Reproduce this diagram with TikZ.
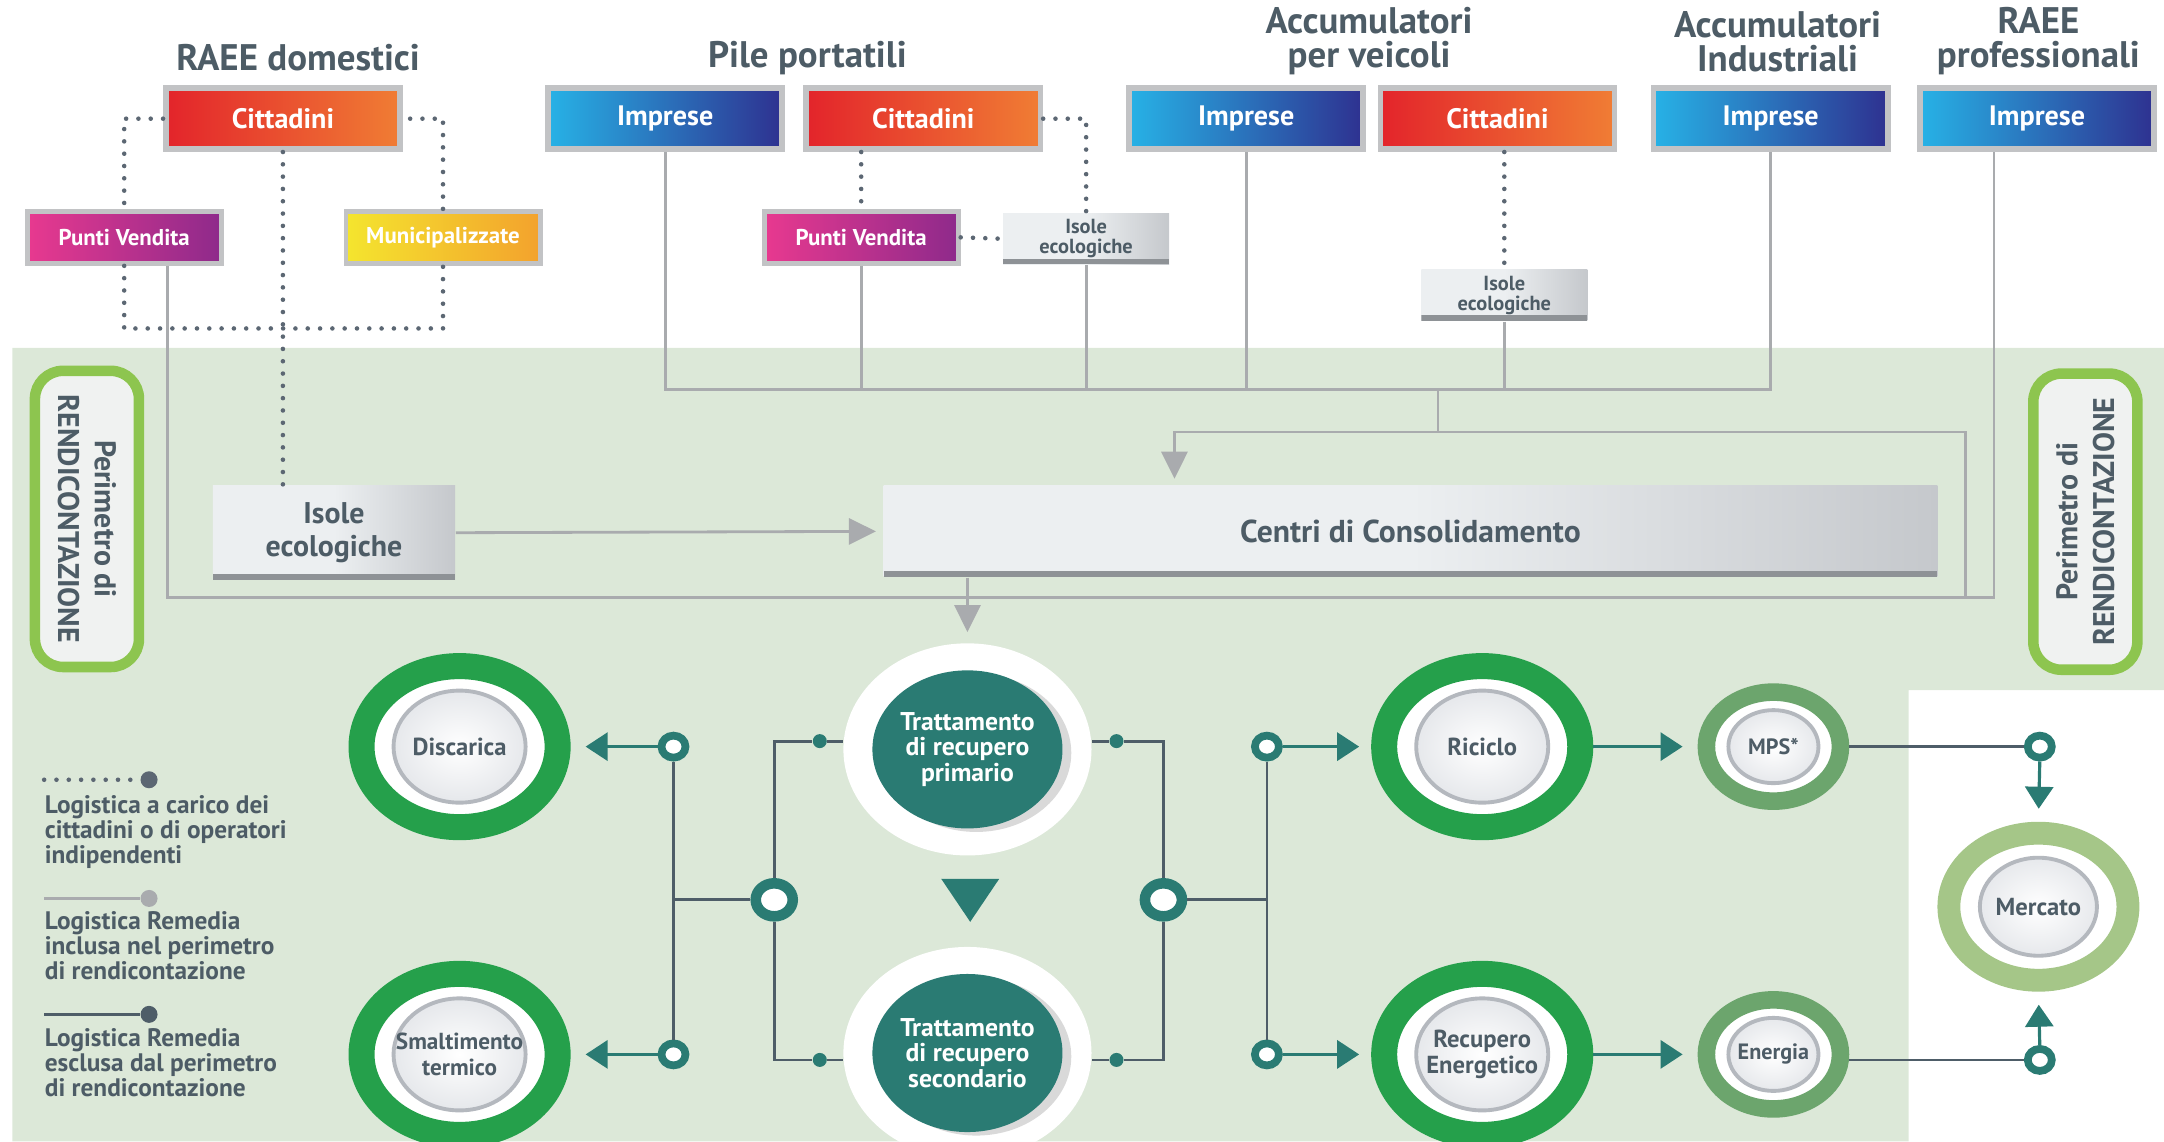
\documentclass[tikz,border=0pt]{standalone}
\usepackage{fontspec}
\setmainfont{PT Sans}
\usetikzlibrary{arrows.meta}
\usetikzlibrary{shapes.geometric}
\usetikzlibrary{shadows}

\definecolor{inkgray}{HTML}{4D5C66}
\definecolor{bggreen}{HTML}{DCE8D8}
\definecolor{wiregray}{HTML}{A9ABAE}
\definecolor{flowgray}{HTML}{4E5D68}
\definecolor{dotgray}{HTML}{5C6773}
\definecolor{framegray}{HTML}{C2C3C5}
\definecolor{tealc}{HTML}{2A7B73}
\definecolor{ringdark}{HTML}{25A04B}
\definecolor{ringmid}{HTML}{6CA56D}
\definecolor{ringlight}{HTML}{A5C688}
\definecolor{perimgreen}{HTML}{8DC54F}
\definecolor{perimfill}{HTML}{F0F2F1}
\definecolor{citred}{HTML}{E3242B}
\definecolor{citorange}{HTML}{F07D34}
\definecolor{impcyan}{HTML}{27B2E6}
\definecolor{impblue}{HTML}{2E3190}
\definecolor{pvpink}{HTML}{E8398F}
\definecolor{pvpurple}{HTML}{8E2A8B}
\definecolor{munyellow}{HTML}{F4E52E}
\definecolor{munorange}{HTML}{F3A22D}
\definecolor{isolight}{HTML}{ECEFF1}
\definecolor{isodark}{HTML}{C5C8CC}
\definecolor{isoedge}{HTML}{8E9296}
\definecolor{coregray}{HTML}{DADDE2}
\definecolor{coreedge}{HTML}{B4B8BE}

% inner disc of the ring nodes
\newcommand{\ringcore}[2]{%
  \shade[inner color=white, outer color=coregray]
    (path picture bounding box.center) ellipse [x radius=#1, y radius=#2];
  \draw[coreedge, line width=1.1pt]
    (path picture bounding box.center) ellipse [x radius=#1, y radius=#2];}

\begin{document}
\begin{tikzpicture}[
    x=0.0138cm, y=-0.0138cm, % one unit per pixel of the layout, y downwards
    grouphead/.style={
        text=inkgray, align=center,
        font=\bfseries\fontsize{10.5}{9.6}\selectfont
    },
    srcbox/.style={
        draw=framegray, line width=1.6pt, % grey frame round the coloured box
        minimum width=2.34cm, minimum height=0.61cm,
        text=white, font=\bfseries\fontsize{8}{8}\selectfont
    },
    citbox/.style={srcbox, left color=citred, right color=citorange},
    impbox/.style={srcbox, left color=impcyan, right color=impblue},
    subbox/.style={
        draw=framegray, line width=1.4pt,
        minimum width=1.94cm, minimum height=0.52cm,
        text=white, font=\bfseries\fontsize{6.5}{6.5}\selectfont
    },
    pvbox/.style={subbox, left color=pvpink, right color=pvpurple},
    munbox/.style={subbox, left color=munyellow, right color=munorange},
    isobox/.style={
        left color=isolight, right color=isodark, middle color=isolight,
        text=inkgray, align=center, inner sep=0pt,
        path picture={\fill[isoedge] (path picture bounding box.south west)
            rectangle ([yshift=1.6pt]path picture bounding box.south east);}
    },
    smalliso/.style={isobox, minimum width=1.66cm, minimum height=0.51cm,
        font=\bfseries\fontsize{5.8}{5.6}\selectfont},
    bigiso/.style={isobox, minimum width=2.42cm, minimum height=0.94cm,
        font=\bfseries\fontsize{8.5}{9.5}\selectfont},
    perim/.style={
        draw=perimgreen, line width=3pt, rounded corners=8pt, fill=perimfill,
        minimum width=2.96cm, minimum height=1.04cm, inner sep=0pt,
        align=center, text=inkgray, font=\bfseries\fontsize{8.5}{10.5}\selectfont
    },
    ring/.style={
        ellipse, fill=white, inner sep=0pt, align=center, text=inkgray,
        font=\bfseries\fontsize{7}{7.4}\selectfont
    },
    bigring/.style={ring, draw=ringdark, line width=7.4pt,
        minimum width=1.96cm, minimum height=1.61cm,
        path picture={\ringcore{0.66cm}{0.56cm}}},
    midring/.style={ring, draw=ringmid, line width=5pt,
        minimum width=1.34cm, minimum height=1.09cm,
        font=\bfseries\fontsize{6.3}{6.5}\selectfont,
        path picture={\ringcore{0.45cm}{0.365cm}}},
    marketring/.style={ring, draw=ringlight, line width=6.5pt,
        minimum width=1.79cm, minimum height=1.47cm,
        path picture={\ringcore{0.585cm}{0.49cm}}},
    halo/.style={ellipse, fill=white, minimum width=2.48cm, minimum height=2.12cm},
    treat/.style={ellipse, fill=tealc, minimum width=1.87cm, minimum height=1.58cm,
        inner sep=0pt, align=center, text=white,
        font=\bfseries\fontsize{7.3}{7.3}\selectfont,
        drop shadow={shadow xshift=2.5pt, shadow yshift=-1pt, fill=black, opacity=0.15}},
    hub/.style={ellipse, draw=tealc, fill=white, line width=2.2pt, inner sep=0pt,
        minimum width=0.24cm, minimum height=0.22cm},
    bighub/.style={hub, line width=3pt, minimum width=0.37cm, minimum height=0.33cm},
    tap/.style={circle, fill=tealc, inner sep=0pt, minimum size=0.14cm},
    legdot/.style={circle, inner sep=0pt, minimum size=0.17cm},
    legtext/.style={anchor=north west, inner sep=0pt, align=left, text=inkgray,
        font=\bfseries\fontsize{7.2}{7.1}\selectfont},
    dotwire/.style={dotgray, line width=1.3pt, line cap=round, dash pattern=on 0pt off 3.5pt},
    feed/.style={wiregray, line width=0.8pt},
    feedarrow/.style={feed, -{Triangle[length=0.27cm, width=0.26cm]}},
    flow/.style={flowgray, line width=0.8pt},
    tealarrow/.style={tealc, line width=0.9pt, -{Triangle[length=0.22cm, width=0.28cm]}}
]

% page and green reporting area
\useasboundingbox (0,0) rectangle (1568,827);
\fill[bggreen] (9,252) -- (1568,252) -- (1568,500) -- (1383,500)
    -- (1383,827) -- (9,827) -- cycle;

% groups of waste
\node[grouphead] (hRD) at (216,42) {RAEE domestici};
\node[grouphead] (hPP) at (585,42) {Pile portatili};
\node[grouphead] (hAV) at (992,30) {Accumulatori\\per veicoli};
\node[grouphead] (hAI) at (1288,30) {Accumulatori\\Industriali};
\node[grouphead] (hRP) at (1477,30) {RAEE\\professionali};

% who hands the waste over
\node[citbox] (cit1) at (205,86) {Cittadini};
\node[impbox] (imp1) at (482,86) {Imprese};
\node[citbox] (cit2) at (669,86) {Cittadini};
\node[impbox] (imp2) at (903,86) {Imprese};
\node[citbox] (cit3) at (1085,86) {Cittadini};
\node[impbox] (imp3) at (1283,86) {Imprese};
\node[impbox] (imp4) at (1476,86) {Imprese};

\node[pvbox] (pv1) at (90,172) {Punti Vendita};
\node[munbox] (mun) at (321,172) {Municipalizzate};
\node[pvbox] (pv2) at (624,172) {Punti Vendita};
\node[smalliso] (iso1) at (787,173) {Isole\\ecologiche};
\node[smalliso] (iso2) at (1090,214) {Isole\\ecologiche};

\node[bigiso] (isoB) at (242,386) {Isole\\ecologiche};
\node[isobox, minimum width=10.53cm, minimum height=0.91cm,
    font=\bfseries\fontsize{9}{9}\selectfont] (cen) at (1022,385) {Centri di Consolidamento};

\node[perim, rotate=-90] (perL) at (63,376) {Perimetro di\\RENDICONTAZIONE};
\node[perim, rotate=90] (perR) at (1511,378) {Perimetro di\\RENDICONTAZIONE};

% dotted logistics
\coordinate (dotjoin) at (205,238);
\draw[dotwire] (cit1.west) -| (pv1.north);
\draw[dotwire] (pv1.south) |- (dotjoin) -| (mun.south);
\draw[dotwire] (mun.north) |- (cit1.east);
\draw[dotwire] (cit1.south) -- (cit1.south |- isoB.north);
\draw[dotwire] (pv2.north |- cit2.south) -- (pv2.north);
\draw[dotwire] (cit2.east) -| (iso1.north);
\draw[dotwire] (pv2.east) -- (iso1.west);
\draw[dotwire] (iso2.north |- cit3.south) -- (iso2.north);

% Remedia logistics into the consolidation centres
\coordinate (bus) at (1042,282);
\coordinate (fork) at (1042,313);
\coordinate (cenIn) at (851,352);
\coordinate (loopR) at (1424,433);
\coordinate (pvTap) at ([xshift=0.43cm]pv1.south);
\coordinate (impTap) at ([xshift=-0.43cm]imp4.south);
\draw[feed] (imp1.south) |- (imp3.south |- bus) -- (imp3.south);
\foreach \src in {pv2, iso1, imp2, iso2}
    \draw[feed] (\src.south) -- (\src.south |- bus);
\draw[feed] (bus) -- (fork);
\draw[feedarrow] (fork) -| ([yshift=2pt]cenIn);
\draw[feed] (fork) -| (loopR);
\draw[feed] (pvTap) |- (impTap |- loopR) -- (impTap);
\draw[feedarrow, shorten >=2pt] (isoB.east) -- (cen.west);

% treatment
\node[halo] (tr1h) at (701,543) {};
\node[treat] (tr1) at (tr1h) {Trattamento\\di recupero\\primario};
\node[halo] (tr2h) at (701,763) {};
\node[treat] (tr2) at (tr2h) {Trattamento\\di recupero\\secondario};
\draw[feedarrow, shorten >=3pt] (cen.south west -| tr1h.north) -- (tr1h.north);
\coordinate (gap) at (703,652);
\fill[tealc] ([xshift=-0.29cm, yshift=0.21cm]gap) -- ([xshift=0.29cm, yshift=0.21cm]gap)
    -- ([yshift=-0.22cm]gap) -- cycle;

% outputs
\node[bigring] (dis) at (333,541) {Discarica};
\node[bigring, font=\bfseries\fontsize{6.6}{7.6}\selectfont] (sma) at (333,764) {Smaltimento\\termico};
\node[bigring] (ric) at (1074,541) {Riciclo};
\node[bigring] (rec) at (1074,764) {Recupero\\Energetico};
\node[midring] (mps) at (1285,541) {MPS*};
\node[midring] (ene) at (1285,764) {Energia};
\node[marketring] (mer) at (1477,657) {Mercato};

% junctions
\node[hub] (hubL1) at (488,541) {};
\node[hub] (hubL2) at (488,764) {};
\node[bighub] (hubL) at (561,652) {};
\node[tap] (tapL1) at (594,537) {};
\node[tap] (tapL2) at (594,768) {};
\node[tap] (tapR1) at (809,537) {};
\node[tap] (tapR2) at (809,768) {};
\node[bighub] (hubR) at (843,652) {};
\node[hub] (hubR1) at (918,541) {};
\node[hub] (hubR2) at (918,764) {};
\node[hub] (hubM1) at (1478,541) {};
\node[hub] (hubM2) at (1478,768) {};

\draw[flow] (tapL1 -| tr1h.west) -- (tapL1) -- (tapL1 -| hubL) -- (hubL.north);
\draw[flow] (hubL.south) -- (tapL2 -| hubL) -- (tapL2) -- (tapL2 -| tr2h.west);
\draw[flow] (hubL.west) -- (hubL.west -| hubL1);
\draw[flow] (hubL1.south) -- (hubL2.north);
\draw[tealarrow, shorten >=0.15cm] (hubL1.west) -- (dis.east);
\draw[tealarrow, shorten >=0.15cm] (hubL2.west) -- (sma.east);

\draw[flow] (tapR1 -| tr1h.east) -- (tapR1) -- (tapR1 -| hubR) -- (hubR.north);
\draw[flow] (hubR.south) -- (tapR2 -| hubR) -- (tapR2) -- (tapR2 -| tr2h.east);
\draw[flow] (hubR.east) -- (hubR.east -| hubR1);
\draw[flow] (hubR1.south) -- (hubR2.north);
\draw[tealarrow, shorten >=0.12cm] (hubR1.east) -- (ric.west);
\draw[tealarrow, shorten >=0.12cm] (hubR2.east) -- (rec.west);

\draw[tealarrow, shorten >=0.15cm] (ric.east) -- (mps.west);
\draw[tealarrow, shorten >=0.15cm] (rec.east) -- (ene.west);
\draw[flow] (mps.east) -- (hubM1.west);
\draw[flow] (hubM2 -| ene.east) -- (hubM2.west);
\draw[tealarrow, shorten >=0.13cm] (hubM1.south) -- (mer.north);
\draw[tealarrow, shorten >=0.13cm] (hubM2.north) -- (mer.south);

% legend
\coordinate (lgA) at (32,565);
\node[legdot, fill=dotgray] (lgdA) at (108,565) {};
\draw[dotwire] (lgA) -- (lgdA.west);
\node[legtext] (lgtA) at (32,576) {Logistica a carico dei\\cittadini o di operatori\\indipendenti};
\coordinate (lgB) at (32,651);
\node[legdot, fill=wiregray] (lgdB) at (108,651) {};
\draw[feed] (lgB) -- (lgdB.west);
\node[legtext] (lgtB) at (32,660) {Logistica Remedia\\inclusa nel perimetro\\di rendicontazione};
\coordinate (lgC) at (32,735);
\node[legdot, fill=flowgray] (lgdC) at (108,735) {};
\draw[flow] (lgC) -- (lgdC.west);
\node[legtext] (lgtC) at (32,745) {Logistica Remedia\\esclusa dal perimetro\\di rendicontazione};

\end{tikzpicture}
\end{document}
